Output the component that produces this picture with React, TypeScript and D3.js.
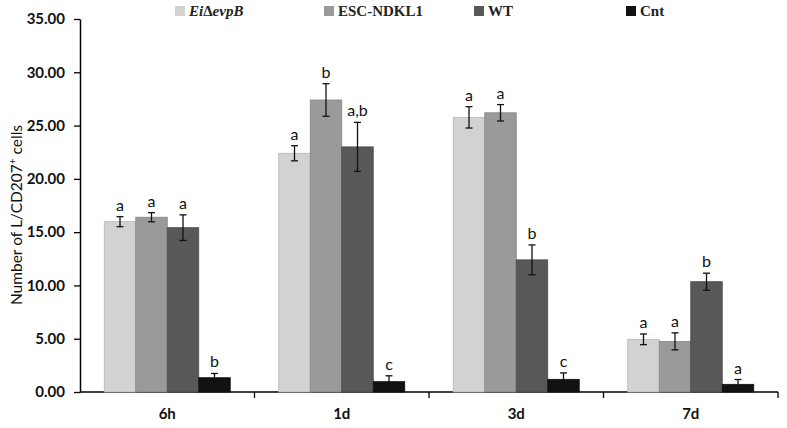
import React, { useEffect, useRef } from 'react'
import * as d3 from 'd3'

const categories = ['6h', '1d', '3d', '7d']
const seriesNames = ['EiΔevpB', 'ESC-NDKL1', 'WT', 'Cnt']
const seriesColors = ['#d2d2d2', '#9a9a9a', '#585858', '#121212']

// values per series, one per category
const means = [
  [15.98, 22.4, 25.77, 4.94],
  [16.4, 27.4, 26.2, 4.75],
  [15.42, 23.0, 12.4, 10.35],
  [1.34, 0.97, 1.19, 0.72],
]
const errors = [
  [0.47, 0.71, 1.0, 0.5],
  [0.43, 1.53, 0.77, 0.8],
  [1.2, 2.3, 1.4, 0.8],
  [0.4, 0.55, 0.6, 0.45],
]
const letters = [
  ['a', 'a', 'a', 'a'],
  ['a', 'b', 'a', 'a'],
  ['a', 'a,b', 'b', 'b'],
  ['b', 'c', 'c', 'a'],
]
const yTicks = [0, 5, 10, 15, 20, 25, 30, 35]

const W = 787
const H = 428
const left = 80
const right = 778
const top = 19
const bottom = 392

export default function App() {
  const svgRef = useRef<SVGSVGElement | null>(null)

  useEffect(() => {
    document.body.style.margin = '0'
    const svg = d3.select(svgRef.current)
    svg.selectAll('*').remove()

    const x0 = d3.scaleBand().domain(categories).range([left, right]).padding(0)
    const x1 = d3
      .scaleBand()
      .domain(seriesNames)
      .range([0, x0.bandwidth()])
      .paddingInner(0)
      .paddingOuter(0.77)
    const y = d3.scaleLinear().domain([0, 35]).range([bottom, top])

    const sans = 'Lato, "DejaVu Sans", sans-serif'

    // y axis
    const yAxis = svg
      .append('g')
      .attr('transform', `translate(${left},0)`)
      .call(
        d3
          .axisLeft(y)
          .tickValues(yTicks)
          .tickFormat(d => d3.format('.2f')(d as number))
          .tickSize(6)
          .tickSizeOuter(0)
          .tickPadding(9)
      )
    yAxis.select('.domain').attr('stroke', '#000').attr('stroke-width', 1.5)
    yAxis.selectAll('.tick line').attr('stroke', '#000').attr('stroke-width', 1.3)
    yAxis
      .selectAll('.tick text')
      .attr('font-family', sans)
      .attr('font-size', '15px')
      .attr('font-weight', 'bold')
      .attr('fill', '#111')

    // x axis
    const xAxis = svg.append('g').attr('transform', `translate(0,${bottom})`)
    xAxis
      .append('line')
      .attr('x1', left)
      .attr('x2', right)
      .attr('stroke', '#000')
      .attr('stroke-width', 1.5)
    xAxis
      .selectAll('line.sep')
      .data(categories.slice(1).concat(['end']))
      .join('line')
      .attr('class', 'sep')
      .attr('x1', (d, i) => (i < categories.length - 1 ? x0(d)! : right))
      .attr('x2', (d, i) => (i < categories.length - 1 ? x0(d)! : right))
      .attr('y1', 0)
      .attr('y2', 6)
      .attr('stroke', '#000')
      .attr('stroke-width', 1.3)
    xAxis
      .selectAll('text')
      .data(categories)
      .join('text')
      .attr('x', d => x0(d)! + x0.bandwidth() / 2)
      .attr('y', 27)
      .attr('text-anchor', 'middle')
      .attr('font-family', sans)
      .attr('font-size', '15px')
      .attr('font-weight', 'bold')
      .attr('fill', '#111')
      .text(d => d)

    // y label
    const yl = svg
      .append('text')
      .attr('transform', `translate(22,215) rotate(-90)`)
      .attr('text-anchor', 'middle')
      .attr('font-family', sans)
      .attr('font-size', '15.5px')
      .attr('fill', '#111')
    yl.append('tspan').text('Number of L/CD207')
    yl.append('tspan').attr('font-size', '10px').attr('dy', -6).text('+')
    yl.append('tspan').attr('dy', 6).text(' cells')

    // bars
    const groups = svg
      .append('g')
      .selectAll('g')
      .data(seriesNames)
      .join('g')
      .attr('fill', (_, i) => seriesColors[i])

    groups.each(function (name, si) {
      const g = d3.select(this)
      const rows = categories.map((c, ci) => ({
        c,
        v: means[si][ci],
        e: errors[si][ci],
        l: letters[si][ci],
      }))
      g.selectAll('rect')
        .data(rows)
        .join('rect')
        .attr('x', d => x0(d.c)! + x1(name)!)
        .attr('y', d => y(d.v))
        .attr('width', x1.bandwidth())
        .attr('height', d => y(0) - y(d.v))
        .attr('stroke', d3.color(seriesColors[si])!.darker(0.4).formatHex())
        .attr('stroke-width', 0.8)

      const cx = (d: { c: string }) => x0(d.c)! + x1(name)! + x1.bandwidth() / 2
      const err = g.append('g').attr('stroke', '#111').attr('stroke-width', 1.3)
      err
        .selectAll('line.v')
        .data(rows)
        .join('line')
        .attr('class', 'v')
        .attr('x1', cx)
        .attr('x2', cx)
        .attr('y1', d => y(d.v + d.e))
        .attr('y2', d => y(Math.max(0, d.v - d.e)))
      err
        .selectAll('line.t')
        .data(rows)
        .join('line')
        .attr('class', 't')
        .attr('x1', d => cx(d) - 3.5)
        .attr('x2', d => cx(d) + 3.5)
        .attr('y1', d => y(d.v + d.e))
        .attr('y2', d => y(d.v + d.e))
      err
        .selectAll('line.b')
        .data(rows)
        .join('line')
        .attr('class', 'b')
        .attr('x1', d => cx(d) - 3.5)
        .attr('x2', d => cx(d) + 3.5)
        .attr('y1', d => y(Math.max(0, d.v - d.e)))
        .attr('y2', d => y(Math.max(0, d.v - d.e)))

      g.selectAll('text')
        .data(rows)
        .join('text')
        .attr('x', cx)
        .attr('y', d => y(d.v + d.e) - 6)
        .attr('text-anchor', 'middle')
        .attr('font-family', sans)
        .attr('font-size', '16px')
        .attr('fill', '#111')
        .text(d => d.l)
    })

    // legend
    const legendX = [175, 324, 474, 626]
    const legend = svg
      .append('g')
      .selectAll('g')
      .data(seriesNames)
      .join('g')
      .attr('transform', (_, i) => `translate(${legendX[i]},6)`)
    legend
      .append('rect')
      .attr('width', 10)
      .attr('height', 10)
      .attr('fill', (_, i) => seriesColors[i])
    const lt = legend
      .append('text')
      .attr('x', 14)
      .attr('y', 10)
      .attr('font-family', '"Liberation Serif", serif')
      .attr('font-size', '15px')
      .attr('font-weight', 'bold')
      .attr('fill', '#222')
    lt.each(function (d, i) {
      const t = d3.select(this)
      if (i === 0) {
        t.append('tspan').attr('font-style', 'italic').text('Ei')
        t.append('tspan').text('Δ')
        t.append('tspan').attr('font-style', 'italic').text('evpB')
      } else {
        t.text(d)
      }
    })
  }, [])

  return <svg ref={svgRef} width={W} height={H} style={{ display: 'block', background: '#fff' }} />
}
